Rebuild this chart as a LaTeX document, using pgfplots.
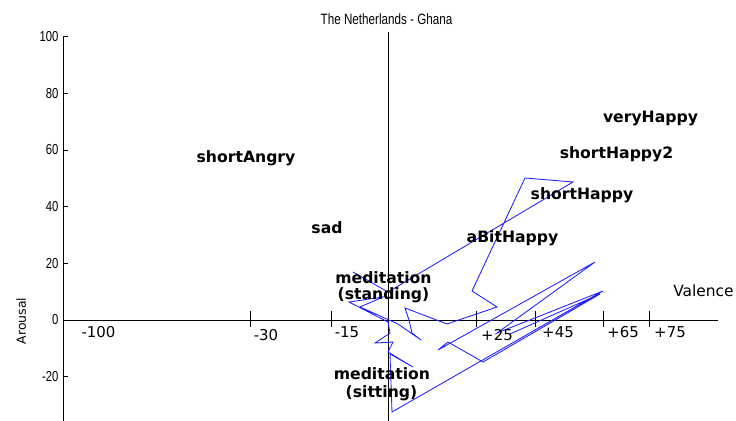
\documentclass[border=0pt]{standalone}
\usepackage{pgfplots}
\pgfplotsset{compat=1.18}
\usepackage{fontspec}
\setmainfont{DejaVu Sans}
\newfontfamily\narrowfont[FakeStretch=0.78]{Liberation Sans}
\definecolor{trajblue}{RGB}{30,30,255}
\tikzset{
  valtick/.style={black, line width=0.8pt},
  vallab/.style={anchor=base, font=\fontsize{15}{17}\selectfont},
  emo/.style={anchor=base, font=\fontsize{15.7}{17}\selectfont\bfseries},
}
\begin{document}
\begin{tikzpicture}
\useasboundingbox (-63bp,0bp) rectangle (673bp,421bp);
\begin{axis}[
  scale only axis,
  width=655bp, height=384.3bp,
  xmin=-325, xmax=330,
  ymin=-35.65, ymax=100,
  axis x line=none,
  axis y line*=left,
  clip=false,
  ytick={-20,0,20,40,60,80,100},
  yticklabels={-20,0,20,40,60,80,100},
  yticklabel style={font=\fontsize{14.5}{16}\selectfont\narrowfont, anchor=east, xshift=-1bp},
  tick align=inside,
  major tick length=5bp,
  every tick/.style={black, line width=0.6pt},
  axis line style={black, line width=0.7pt},
]
% axes cross
\draw[black, line width=0.9pt] (axis cs:-321,0) -- (axis cs:330,0);
\draw[black, line width=0.9pt] (axis cs:0,-35.65) -- (axis cs:0,101.7);
\draw[valtick] (axis cs:-138,3.18) -- (axis cs:-138,-2.47);
\draw[valtick] (axis cs:-57,3.18) -- (axis cs:-57,-2.47);
\draw[valtick] (axis cs:88,3.18) -- (axis cs:88,-2.47);
\draw[valtick] (axis cs:147,3.18) -- (axis cs:147,-2.47);
\draw[valtick] (axis cs:215,3.18) -- (axis cs:215,-2.47);
\draw[valtick] (axis cs:261,3.18) -- (axis cs:261,-2.47);
% trajectory
\addplot[trajblue, line width=0.85pt, mark=none] coordinates {
(-35,16.94) (0,9.88) (185,48.71) (137,50.12) (84,10.24) (109,4.59)
(59,-1.41) (17,4.24) (21,0) (24,-4.59) (33,-7.06) (10,-1.41)
(-28,4.59) (-5,8.12) (-39,6.35) (0,-0.71) (2,-4.59) (-13,-8.12)
(5,-7.77) (0,-11.30) (25,-16.59) (2,-12.00) (4,-32.47) (215,10.24)
(109,-4.59) (207,20.47) (50,-10.59) (60,-7.77) (95,-14.83) (212,9.18)
(122,-4.94)
};
% title and axis labels
\node[anchor=base, font=\fontsize{15}{17}\selectfont\narrowfont] at (axis cs:-1.5,104.13) {The Netherlands - Ghana};
\node[rotate=90, anchor=center, font=\fontsize{12.5}{14}\selectfont] at (axis cs:-366.7,-0.35) {Arousal};
\node[anchor=base, font=\fontsize{15.5}{17}\selectfont] at (axis cs:315.5,8.12) {Valence};
% valence tick labels
\node[vallab] at (axis cs:-289.5,-6.35) {-100};
\node[vallab] at (axis cs:-122,-7.06) {-30};
\node[vallab] at (axis cs:-41,-6.35) {-15};
\node[vallab] at (axis cs:109,-7.06) {+25};
\node[vallab] at (axis cs:170,-6.0) {+45};
\node[vallab] at (axis cs:235,-6.0) {+65};
\node[vallab] at (axis cs:282,-6.0) {+75};
% emotion labels
\node[emo] at (axis cs:-142,55.77) {shortAngry};
\node[emo] at (axis cs:262.5,69.54) {veryHappy};
\node[emo] at (axis cs:228.5,57.18) {shortHappy2};
\node[emo] at (axis cs:194,42.36) {shortHappy};
\node[emo] at (axis cs:124.5,27.53) {aBitHappy};
\node[emo] at (axis cs:-61,30.36) {sad};
\node[emo] at (axis cs:-4.5,13.06) {meditation};
\node[emo] at (axis cs:-4.5,7.41) {(standing)};
\node[emo] at (axis cs:-6,-20.83) {meditation};
\node[emo] at (axis cs:-6.5,-27.18) {(sitting)};
\end{axis}
\end{tikzpicture}
\end{document}
